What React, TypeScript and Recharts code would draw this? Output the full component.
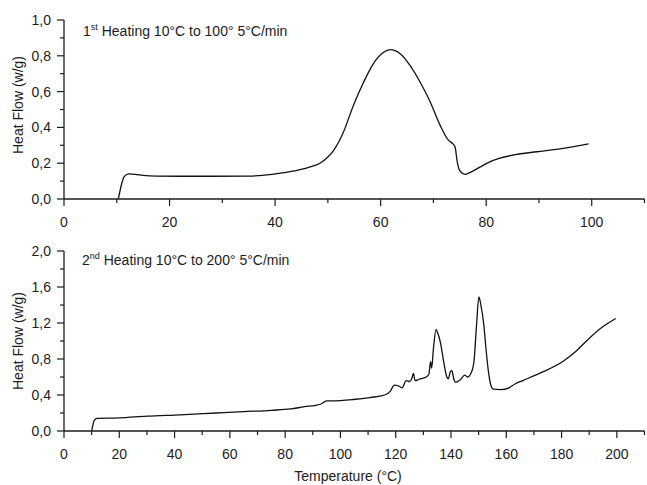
import { Line, LineChart, XAxis, YAxis } from 'recharts';

// 1st heating, 10 -> 100 °C
const firstTemp = [
  10.3, 10.8, 11.4, 12.3, 13.5, 15, 17.6, 22, 28, 35, 38, 41, 44.7, 46.5, 48.5, 50, 51, 52.9, 54.8,
  56.7, 58.6, 60.5, 61.8, 63.7, 65.6, 67.5, 69.4, 71.3, 72.8, 73.7, 74.1, 74.5, 75, 76, 77.2, 78.8,
  80.5, 82.6, 86, 89.6, 94.6, 99.4,
];
const firstFlow = [
  0, 0.07, 0.125, 0.14, 0.138, 0.132, 0.128, 0.127, 0.127, 0.128, 0.133, 0.144, 0.164, 0.178, 0.2,
  0.235, 0.268, 0.37, 0.52, 0.648, 0.755, 0.818, 0.834, 0.812, 0.745, 0.652, 0.542, 0.41, 0.33,
  0.308, 0.292, 0.21, 0.158, 0.138, 0.152, 0.178, 0.205, 0.228, 0.25, 0.264, 0.283, 0.308,
];

// 2nd heating, 10 -> 200 °C
const secondTemp = [
  10, 10.4, 11, 12, 20, 30, 42, 55, 65, 75, 82, 87, 91, 93, 95, 97, 104.6, 110.7, 116, 118, 119.5,
  121, 122.3, 123.8, 125, 125.8, 126.4, 127, 128.5, 131, 132, 132.6, 133, 133.6, 134.6, 135.3,
  136.2, 137.3, 138.5, 139, 139.8, 140.3, 141, 141.6, 143.2, 145, 146, 147.5, 148.4, 149.2, 150.1,
  150.8, 151.8, 152.7, 153.5, 154.5, 155.3, 158, 161, 163, 166, 172, 180.6, 185, 189, 195, 199.6,
];
const secondFlow = [
  0, 0.06, 0.12, 0.14, 0.145, 0.165, 0.18, 0.2, 0.215, 0.23, 0.245, 0.27, 0.285, 0.3, 0.335, 0.335,
  0.35, 0.372, 0.4, 0.44, 0.51, 0.5, 0.48, 0.56, 0.55, 0.58, 0.64, 0.56, 0.575, 0.6, 0.63, 0.77,
  0.7, 0.9, 1.13, 1.08, 0.98, 0.78, 0.6, 0.58, 0.66, 0.67, 0.58, 0.54, 0.565, 0.62, 0.6, 0.66, 0.8,
  1.16, 1.49, 1.4, 1.2, 0.9, 0.67, 0.5, 0.465, 0.46, 0.48, 0.52, 0.56, 0.64, 0.775, 0.88, 1.0,
  1.16, 1.25,
];

const topXTicks = [0, 10, 20, 30, 40, 50, 60, 70, 80, 90, 100, 110];
const topXLabels = [0, 20, 40, 60, 80, 100];
const topYTicks = [0, 0.1, 0.2, 0.3, 0.4, 0.5, 0.6, 0.7, 0.8, 0.9, 1.0];
const topYLabels = [0, 0.2, 0.4, 0.6, 0.8, 1.0];

const bottomXTicks = [
  0, 10, 20, 30, 40, 50, 60, 70, 80, 90, 100, 110, 120, 130, 140, 150, 160, 170, 180, 190, 200, 210,
];
const bottomXLabels = [0, 20, 40, 60, 80, 100, 120, 140, 160, 180, 200];
const bottomYTicks = [0, 0.2, 0.4, 0.6, 0.8, 1.0, 1.2, 1.4, 1.6, 1.8, 2.0];
const bottomYLabels = [0, 0.4, 0.8, 1.2, 1.6, 2.0];

const firstRun = firstTemp.map((t, i) => ({ t, hf: firstFlow[i] }));
const secondRun = secondTemp.map((t, i) => ({ t, hf: secondFlow[i] }));

const ink = '#1c1c1c';
const font = '"Liberation Sans", Arial, Helvetica, sans-serif';

const isMajor = (labels: number[], v: number) => labels.some((l) => Math.abs(l - v) < 1e-6);

function makeXTick(labels: number[]) {
  return function XTick(props: any) {
    const { x, y, payload } = props;
    const major = isMajor(labels, payload.value);
    return (
      <g>
        <line x1={x} x2={x} y1={y} y2={y + (major ? 7 : 4)} stroke={ink} strokeWidth={1.2} />
        {major && (
          <text x={x} y={y + 27.5} textAnchor="middle" fontSize={14} fill={ink} fontFamily={font}>
            {payload.value}
          </text>
        )}
      </g>
    );
  };
}

function makeYTick(labels: number[]) {
  return function YTick(props: any) {
    const { x, y, payload } = props;
    const major = isMajor(labels, payload.value);
    return (
      <g>
        <line x1={x - (major ? 7 : 4)} x2={x} y1={y} y2={y} stroke={ink} strokeWidth={1.2} />
        {major && (
          <text x={x - 13} y={y + 5} textAnchor="end" fontSize={14} fill={ink} fontFamily={font}>
            {payload.value.toFixed(1).replace('.', ',')}
          </text>
        )}
      </g>
    );
  };
}

const TopXTick = makeXTick(topXLabels);
const TopYTick = makeYTick(topYLabels);
const BottomXTick = makeXTick(bottomXLabels);
const BottomYTick = makeYTick(bottomYLabels);

export default function App() {
  return (
    <div
      style={{
        position: 'absolute',
        left: 0,
        top: 0,
        width: 647,
        height: 485,
        background: '#fff',
        fontFamily: font,
      }}
    >
      <div style={{ position: 'absolute', left: 0, top: 0 }}>
        <LineChart width={647} height={232} data={firstRun} margin={{ top: 20, right: 2.5, bottom: 3, left: 0 }}>
          <XAxis
            dataKey="t"
            type="number"
            domain={[0, 110]}
            ticks={topXTicks}
            interval={0}
            tick={TopXTick}
            tickLine={false}
            tickSize={0}
            tickMargin={0}
            height={30}
            axisLine={{ stroke: ink, strokeWidth: 1.3 }}
          />
          <YAxis
            type="number"
            domain={[0, 1]}
            ticks={topYTicks}
            interval={0}
            tick={TopYTick}
            tickLine={false}
            tickSize={0}
            tickMargin={0}
            width={64}
            axisLine={{ stroke: ink, strokeWidth: 1.3 }}
          />
          <Line dataKey="hf" type="monotone" stroke="#111" strokeWidth={1.3} dot={false} isAnimationActive={false} />
        </LineChart>
      </div>
      <div style={{ position: 'absolute', left: 0, top: 232 }}>
        <LineChart width={647} height={253} data={secondRun} margin={{ top: 19, right: 2.5, bottom: 24, left: 0 }}>
          <XAxis
            dataKey="t"
            type="number"
            domain={[0, 210]}
            ticks={bottomXTicks}
            interval={0}
            tick={BottomXTick}
            tickLine={false}
            tickSize={0}
            tickMargin={0}
            height={30}
            axisLine={{ stroke: ink, strokeWidth: 1.3 }}
          />
          <YAxis
            type="number"
            domain={[0, 2]}
            ticks={bottomYTicks}
            interval={0}
            tick={BottomYTick}
            tickLine={false}
            tickSize={0}
            tickMargin={0}
            width={64}
            axisLine={{ stroke: ink, strokeWidth: 1.3 }}
          />
          <Line dataKey="hf" type="monotone" stroke="#111" strokeWidth={1.3} dot={false} isAnimationActive={false} />
        </LineChart>
      </div>
      <svg width={647} height={485} style={{ position: 'absolute', left: 0, top: 0, pointerEvents: 'none' }}>
        <g fill={ink} fontFamily={font} fontSize={14}>
          <text x={83} y={36}>
            1<tspan fontSize={9} dy={-6}>st</tspan>
            <tspan dy={6}> Heating 10°C to 100° 5°C/min</tspan>
          </text>
          <text x={82} y={265}>
            2<tspan fontSize={9} dy={-6}>nd</tspan>
            <tspan dy={6}> Heating 10°C to 200° 5°C/min</tspan>
          </text>
          <text transform="translate(23,105) rotate(-90)" textAnchor="middle">
            Heat Flow (w/g)
          </text>
          <text transform="translate(23,341) rotate(-90)" textAnchor="middle">
            Heat Flow (w/g)
          </text>
          <text x={348} y={481} textAnchor="middle">
            Temperature (°C)
          </text>
        </g>
      </svg>
    </div>
  );
}
